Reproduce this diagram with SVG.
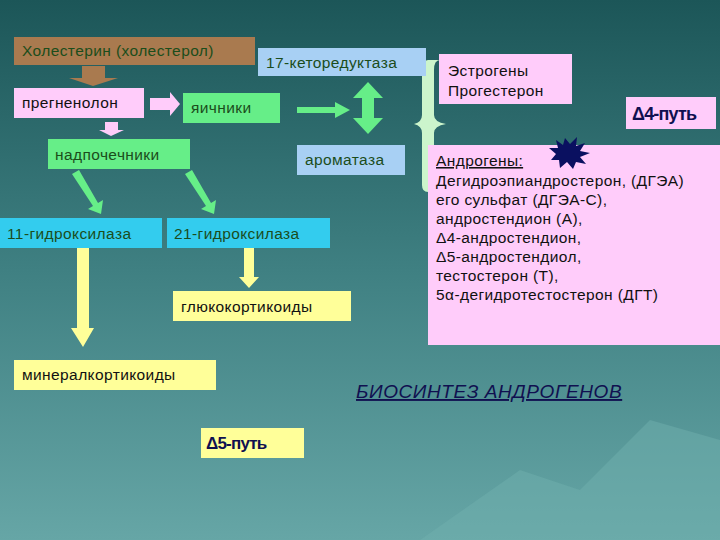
<svg xmlns="http://www.w3.org/2000/svg" width="720" height="540" viewBox="0 0 720 540">
<defs>
<linearGradient id="bg" x1="0" y1="0" x2="0" y2="1">
<stop offset="0" stop-color="#1c5658"/><stop offset="0.5" stop-color="#3f8082"/><stop offset="1" stop-color="#66a6a6"/>
</linearGradient>
</defs>
<style>
text{font-family:"Liberation Sans",Arial,sans-serif;font-size:15.5px;letter-spacing:0.4px}
.g{fill:#1b4d1b}.d{fill:#111}.n{fill:#101050}
.pink{fill:#ffccfa}.grn{fill:#66ee88}.blu{fill:#a8d0f4}.cy{fill:#33ccee}.yel{fill:#ffff99}
</style>
<rect width="720" height="540" fill="url(#bg)"/>
<path d="M420 540 L520 470 L580 490 L650 420 L720 440 L720 540 Z" fill="#6fb0ae" opacity="0.5"/>
<g id="connectors">
<path d="M82 66 H105 V78 H118 L93 86 L69 78 H82 Z" fill="#a97a4f"/>
<path d="M150 98 H170 V92 L180 104 L170 116 V110 H150 Z" fill="#ffccfa"/>
<path d="M105 122 H118 V130 H124 L111 136 L99 130 H105 Z" fill="#ffccfa"/>
<path d="M297 107 H335 V102 L350 110 L335 118 V113 H297 Z" fill="#66ee88"/>
<path d="M368 82 L383 98 H374 V118 H383 L368 134 L353 118 H362 V98 H353 Z" fill="#66ee88"/>
<path d="M72 174 L79 170 L98 203 L103 200 L101 214 L88 209 L93 206 Z" fill="#66ee88"/>
<path d="M185 174 L192 170 L211 203 L216 200 L214 214 L201 209 L206 206 Z" fill="#66ee88"/>
<path d="M77 248 H89 V328 H94 L83 347 L71 328 H77 Z" fill="#ffff99"/>
<path d="M244 248 H254 V277 H259 L249 288 L239 277 H244 Z" fill="#ffff99"/>
<path d="M428 60 Q422 60 422 70 V115 Q422 122 414 124 Q422 126 422 133 V185 Q422 192 428 192 H440 Q434 192 434 185 V133 Q434 126 446 124 Q434 122 434 115 V70 Q434 60 440 60 Z" fill="#ccf5cc"/>
</g>
<g id="n1"><rect x="14" y="37" width="241" height="28" fill="#a97a4f"/><text x="22" y="56" class="g">Холестерин (холестерол)</text></g>
<g id="n2"><rect x="14" y="88" width="130" height="30" class="pink"/><text x="22" y="108" class="d">прегненолон</text></g>
<g id="n3"><rect x="183" y="93" width="97" height="30" class="grn"/><text x="191" y="113" class="g">яичники</text></g>
<g id="n4"><rect x="258" y="48" width="168" height="28" class="blu"/><text x="266" y="68" class="g">17-кеторедуктаза</text></g>
<g id="n5"><rect x="297" y="145" width="108" height="30" class="blu"/><text x="305" y="165" class="g">ароматаза</text></g>
<g id="n6"><rect x="48" y="139" width="142" height="30" class="grn"/><text x="55" y="160" class="g">надпочечники</text></g>
<g id="n7"><rect x="0" y="218" width="162" height="30" class="cy"/><text x="7" y="239" class="g">11-гидроксилаза</text></g>
<g id="n8"><rect x="167" y="218" width="163" height="30" class="cy"/><text x="174" y="239" class="g">21-гидроксилаза</text></g>
<g id="n9"><rect x="173" y="291" width="178" height="30" class="yel"/><text x="181" y="312" class="d">глюкокортикоиды</text></g>
<g id="n10"><rect x="14" y="360" width="202" height="30" class="yel"/><text x="22" y="380" class="d">минералкортикоиды</text></g>
<g id="n11"><rect x="201" y="428" width="103" height="30" class="yel"/><text x="206" y="449" class="n" style="font-weight:bold;font-size:17px;letter-spacing:-0.8px">Δ5-путь</text></g>
<g id="n12"><rect x="439" y="54" width="133" height="50" class="pink"/><text x="448" y="76" class="d">Эстрогены</text><text x="448" y="96" class="d">Прогестерон</text></g>
<g id="n13"><rect x="626" y="97" width="90" height="32" class="pink"/><text x="632" y="120" class="n" style="font-weight:bold;font-size:18px;letter-spacing:-0.8px">Δ4-путь</text></g>
<g id="n14"><rect x="428" y="145" width="292" height="200" class="pink"/>
<text x="436" y="166" class="d" text-decoration="underline">Андрогены:</text>
<text x="436" y="186" class="d">Дегидроэпиандростерон, (ДГЭА)</text>
<text x="436" y="205" class="d">его сульфат (ДГЭА-С),</text>
<text x="436" y="224" class="d">андростендион (А),</text>
<text x="436" y="243" class="d">Δ4-андростендион,</text>
<text x="436" y="262" class="d">Δ5-андростендиол,</text>
<text x="436" y="281" class="d">тестостерон (Т),</text>
<text x="436" y="300" class="d">5α-дегидротестостерон (ДГТ)</text>
</g>
<g id="star"><polygon points="565,138 570,144 577,137 576,146 585,143 580,151 590,153 580,157 586,164 576,162 573,169 567,162 560,168 559,160 551,160 556,154 549,148 558,148 556,140 563,145" fill="#0a1060"/></g>
<g id="title"><text x="356" y="398" class="n" style="font-size:19px;letter-spacing:0.6px;font-style:italic" text-decoration="underline">БИОСИНТЕЗ АНДРОГЕНОВ</text></g>
</svg>
